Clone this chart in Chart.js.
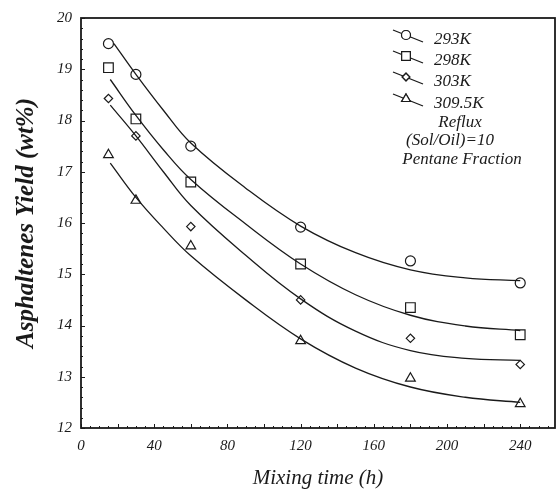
<!DOCTYPE html>
<html>
<head>
<meta charset="utf-8">
<script src="https://cdn.jsdelivr.net/npm/chart.js@4.4.0/dist/chart.umd.min.js"></script>
<style>
html,body{margin:0;padding:0;background:#fff;}
#wrap{width:558px;height:497px;position:relative;}
</style>
</head>
<body>
<div id="wrap"><canvas id="c" width="558" height="497"></canvas></div>
<script>
// Measured points
const times = [15, 30, 60, 120, 180, 240];
const y293 = [19.5, 18.9, 17.5, 15.92, 15.26, 14.83];
const y298 = [19.03, 18.03, 16.8, 15.2, 14.35, 13.82];
const y303 = [18.43, 17.7, 15.93, 14.5, 13.75, 13.24];
const y3095 = [17.33, 16.44, 15.55, 13.7, 12.97, 12.47];

// Fitted curves
const fitX293 = [18, 30, 45, 60, 90, 120, 150, 180, 210, 240];
const fit293 = [19.5, 18.9, 18.2, 17.56, 16.68, 15.94, 15.42, 15.085, 14.93, 14.875];
const fitX = [16, 30, 45, 60, 90, 120, 150, 180, 210, 240];
const fit298 = [18.8, 18.1, 17.43, 16.85, 15.98, 15.2, 14.6, 14.2, 13.99, 13.9];
const fit303 = [18.3, 17.7, 17.0, 16.34, 15.37, 14.52, 13.89, 13.51, 13.36, 13.32];
const fit3095 = [17.17, 16.5, 15.9, 15.36, 14.5, 13.74, 13.17, 12.8, 12.6, 12.5];

const seriesNames = ['293K', '298K', '303K', '309.5K'];
const seriesStyles = ['circle', 'rect', 'rectRot', 'triangle'];
const notes = ['Reflux', '(Sol/Oil)=10', 'Pentane Fraction'];
const xTickLabels = [0, 40, 80, 120, 160, 200, 240];

const xTitle = 'Mixing time (h)';
const yTitle = 'Asphaltenes Yield (wt%)';

const INK = '#1a1a1a';
const serif = '"Liberation Serif", "DejaVu Serif", serif';

const measured = [y293, y298, y303, y3095];
const fits = [fit293, fit298, fit303, fit3095];
const fitXs = [fitX293, fitX, fitX, fitX];
const radii = [5, 6.8, 4.2, 5.6];

const datasets = [];
fits.forEach((f, i) => {
  datasets.push({
    type: 'line',
    label: seriesNames[i] + ' fit',
    data: fitXs[i].map((x, k) => ({x, y: f[k]})),
    borderColor: INK,
    borderWidth: 1.3,
    pointRadius: 0,
    fill: false,
    tension: 0.4
  });
});
measured.forEach((m, i) => {
  datasets.push({
    type: 'scatter',
    label: seriesNames[i],
    data: times.map((x, k) => ({x, y: m[k]})),
    pointStyle: seriesStyles[i],
    pointRadius: radii[i],
    pointBackgroundColor: 'rgba(255,255,255,0)',
    pointBorderColor: INK,
    pointBorderWidth: 1.2,
    showLine: false
  });
});

const decor = {
  id: 'decor',
  afterDraw(chart) {
    const {ctx, chartArea: a, scales: {x, y}} = chart;
    ctx.save();
    // frame
    ctx.strokeStyle = INK;
    ctx.lineWidth = 1.8;
    ctx.strokeRect(a.left, a.top, a.right - a.left, a.bottom - a.top);
    // inward ticks
    ctx.lineWidth = 1;
    for (let v = 12; v <= 20.001; v += 0.2) {
      const py = Math.round(y.getPixelForValue(v)) + 0.5;
      const major = Math.abs(v - Math.round(v)) < 1e-6;
      const len = major ? 4 : 2;
      ctx.beginPath(); ctx.moveTo(a.left, py); ctx.lineTo(a.left + len, py); ctx.stroke();
    }
    for (let v = 0; v <= 255; v += 5) {
      const px = Math.round(x.getPixelForValue(v)) + 0.5;
      const len = v % 20 === 0 ? 4 : 2;
      ctx.beginPath(); ctx.moveTo(px, a.bottom); ctx.lineTo(px, a.bottom - len); ctx.stroke();
    }
    // legend
    const lx0 = 393, lx1 = 423, tx = 434;
    const rows = [36, 57, 78, 100];
    ctx.font = 'italic 17px ' + serif;
    ctx.fillStyle = INK;
    ctx.textBaseline = 'middle';
    rows.forEach((ry, i) => {
      ctx.strokeStyle = INK;
      ctx.lineWidth = 1.2;
      ctx.beginPath(); ctx.moveTo(lx0, ry - 6); ctx.lineTo(lx1, ry + 6); ctx.stroke();
      const mx = 406, my = ry - 1;
      ctx.fillStyle = '#fff';
      Chart.helpers.drawPoint(ctx, {pointStyle: seriesStyles[i], radius: radii[i] * 0.9, borderWidth: 1.2, rotation: 0}, mx, my);
      ctx.fill();
      ctx.stroke();
      ctx.fillStyle = INK;
      ctx.textAlign = 'left';
      ctx.fillText(seriesNames[i], tx, ry + 4);
    });
    ctx.textAlign = 'center';
    ctx.fillText(notes[0], 460, 123);
    ctx.fillText(notes[1], 450, 141);
    ctx.fillText(notes[2], 462, 160);
    ctx.restore();
  }
};

new Chart(document.getElementById('c'), {
  data: {datasets},
  options: {
    responsive: false,
    animation: false,
    layout: {autoPadding: false, padding: {left: 0, right: 3, top: 16, bottom: 0}},
    plugins: {legend: {display: false}, tooltip: {enabled: false}},
    scales: {
      x: {
        type: 'linear', min: 0, max: 259,
        border: {display: false},
        grid: {display: false, drawTicks: false},
        afterBuildTicks: (s) => { s.ticks = xTickLabels.map(v => ({value: v})); },
        ticks: {
          autoSkip: false, maxRotation: 0, padding: 9,
          color: INK, font: {family: serif, style: 'italic', size: 15}
        },
        title: {display: true, text: xTitle, color: INK, padding: {top: 0, bottom: 6},
                font: {family: serif, style: 'italic', size: 21}},
        afterFit: (s) => { s.height = 69; s.paddingLeft = 0; s.paddingRight = 0; }
      },
      y: {
        type: 'linear', min: 12, max: 20,
        border: {display: false},
        grid: {display: false, drawTicks: false},
        ticks: {
          stepSize: 1, padding: 9, color: INK,
          font: {family: serif, style: 'italic', size: 15}
        },
        title: {display: true, text: yTitle, color: INK, padding: {top: 12, bottom: 0},
                font: {family: serif, style: 'italic', weight: 'bold', size: 25}},
        afterFit: (s) => { s.width = 81; }
      }
    }
  },
  plugins: [decor]
});
</script>
</body>
</html>
